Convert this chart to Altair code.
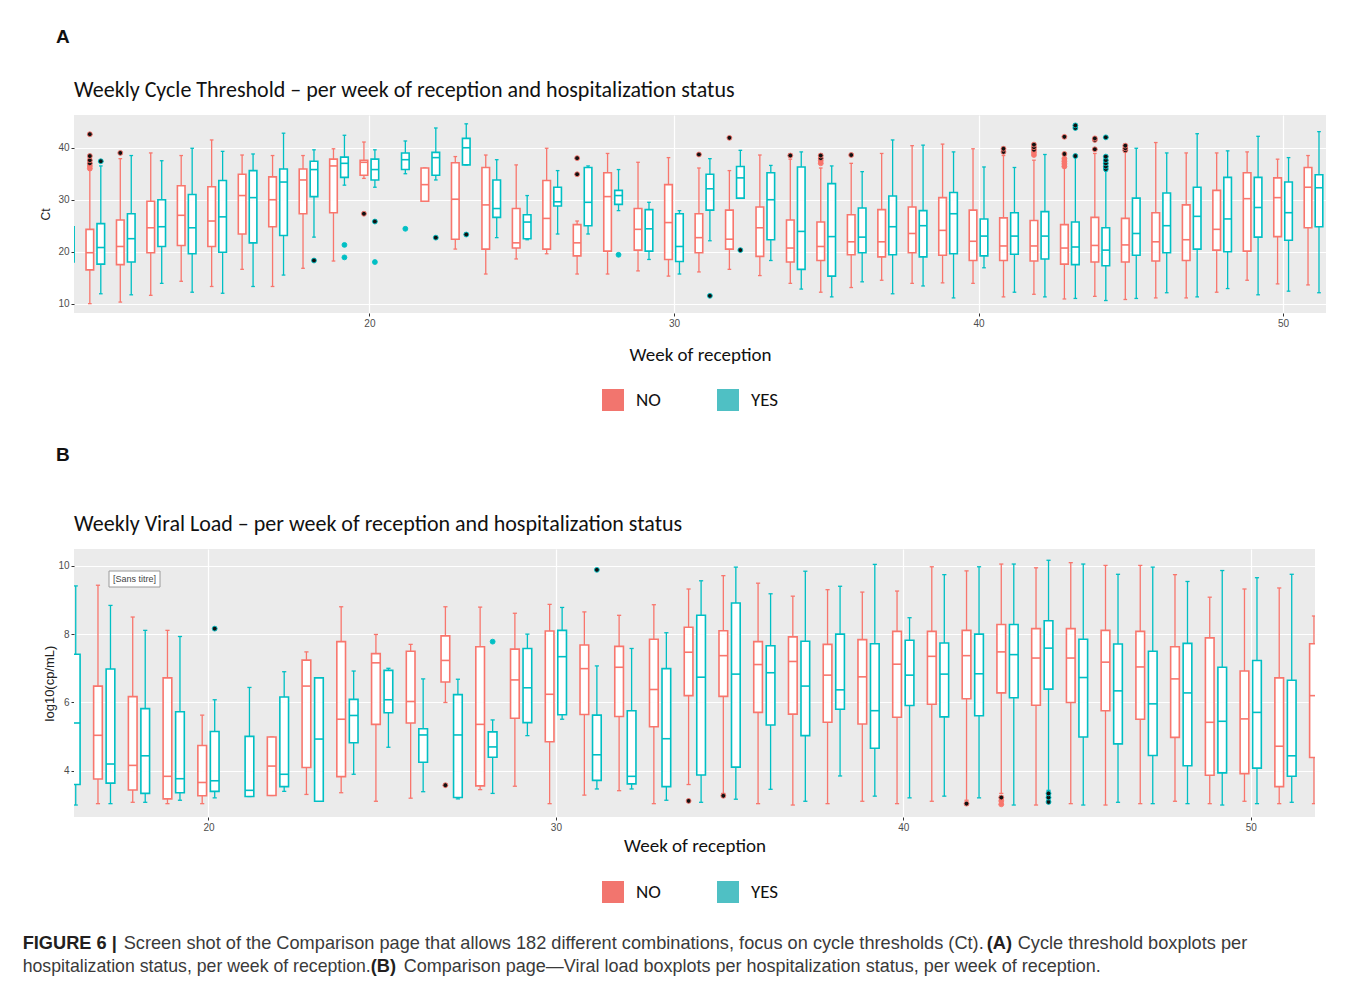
import altair as alt
import pandas as pd

# ---------------- Panel A : Cycle threshold (Ct) ----------------
A_week = [10, 11, 11, 12, 12, 13, 13, 14, 14, 15, 15, 16, 16, 17, 17, 18, 18, 19, 19, 20, 20, 21,
          22, 22, 23, 23, 24, 24, 25, 25, 26, 26, 27, 27, 28, 28, 29, 29, 30, 30, 31, 31, 32, 32,
          33, 33, 34, 34, 35, 35, 36, 36, 37, 37, 38, 38, 39, 39, 40, 40, 41, 41, 42, 42, 43, 43,
          44, 44, 45, 45, 46, 46, 47, 47, 48, 48, 49, 49, 50, 50, 51, 51]
A_group = ["YES"] + ["NO", "YES"] * 10 + ["YES"] + ["NO", "YES"] * 30
A_lo = [12.0, 10.0, 11.9, 10.3, 11.7, 11.6, 13.9, 14.3, 12.2, 13.3, 12.0, 16.6, 13.3, 13.3, 15.5,
        16.8, 22.8, 18.2, 32.8, 34.1, 32.4, 35.0,
        29.7, 33.8, 20.5, 36.7, 15.7, 22.7, 18.6, 22.3, 19.6, 23.4, 15.7, 23.4, 15.7, 27.9,
        16.3, 18.5, 15.3, 15.7, 16.1, 22.1, 16.6, 30.3, 15.4, 18.3, 13.9, 12.8, 12.2, 11.3,
        13.1, 14.2, 14.5, 11.9, 13.9, 13.4, 14.0, 11.1, 13.9, 16.9, 11.3, 12.2, 11.8, 11.3,
        10.9, 11.0, 11.4, 10.6, 10.8, 11.0, 11.1, 12.1, 11.1, 11.3, 12.2, 12.9, 14.5, 11.7,
        13.8, 12.4, 13.6, 12.1]
A_q1 = [18.0, 16.5, 17.6, 17.5, 18.0, 19.8, 21.0, 21.2, 19.6, 21.0, 19.9, 23.4, 21.7, 24.8, 23.1,
        27.3, 30.6, 27.5, 34.3, 34.7, 33.8, 35.8,
        29.7, 34.7, 22.4, 36.7, 20.5, 26.6, 20.7, 22.5, 20.5, 28.8, 19.2, 25.0, 20.1, 29.1,
        20.3, 20.1, 18.5, 18.1, 19.8, 28.0, 20.5, 30.3, 19.1, 22.3, 18.0, 16.6, 18.3, 15.3,
        19.4, 19.8, 19.0, 19.4, 19.8, 19.0, 19.3, 19.6, 18.3, 19.2, 18.3, 19.5, 18.2, 18.6,
        17.6, 17.5, 18.0, 17.3, 18.0, 19.3, 18.2, 19.8, 18.3, 20.5, 20.3, 20.0, 20.1, 22.8,
        22.9, 22.2, 24.6, 24.8]
A_med = [21.0, 19.8, 20.8, 21.0, 22.5, 24.6, 24.8, 27.0, 24.6, 25.9, 26.7, 30.8, 30.4, 30.0, 33.4,
         33.8, 35.8, 36.5, 37.0, 37.2, 35.8, 37.7,
         32.9, 38.1, 30.1, 40.0, 29.0, 28.3, 21.7, 25.7, 26.4, 29.6, 21.7, 29.5, 30.6, 30.8,
         24.3, 24.4, 25.6, 21.0, 22.7, 32.1, 22.4, 34.2, 24.6, 30.0, 20.7, 23.9, 21.0, 22.9,
         21.9, 22.8, 21.9, 24.8, 23.5, 25.0, 24.1, 27.3, 22.0, 23.0, 21.1, 23.0, 21.1, 23.0,
         20.7, 20.9, 21.2, 20.3, 21.3, 23.5, 21.9, 25.0, 22.3, 26.8, 24.3, 26.3, 30.2, 28.5,
         30.4, 27.5, 32.4, 32.3]
A_q3 = [24.8, 24.3, 25.4, 26.1, 27.3, 29.7, 30.0, 32.7, 31.0, 32.5, 33.7, 34.9, 35.6, 34.4, 35.9,
        35.9, 37.4, 37.8, 38.2, 37.6, 37.8, 39.0,
        36.1, 39.1, 37.1, 41.8, 36.2, 33.8, 28.3, 27.1, 33.7, 32.4, 25.2, 36.2, 35.2, 31.8,
        28.3, 28.1, 32.9, 27.3, 27.3, 34.9, 28.0, 36.4, 28.6, 35.2, 26.1, 36.3, 25.7, 33.1,
        27.1, 28.4, 28.1, 30.7, 28.6, 27.9, 30.4, 31.4, 28.0, 26.3, 26.5, 27.5, 26.0, 27.7,
        25.2, 25.7, 26.6, 24.6, 26.4, 30.3, 27.5, 31.3, 29.0, 32.4, 31.8, 34.3, 35.2, 34.3,
        34.2, 33.4, 36.2, 34.8]
A_hi = [36.0, 35.7, 36.5, 37.9, 38.5, 39.0, 37.5, 38.5, 39.9, 41.5, 39.3, 38.6, 38.8, 38.5, 42.8,
        38.5, 39.6, 39.8, 42.4, 41.1, 39.6, 41.3,
        36.1, 43.8, 38.3, 44.6, 38.6, 37.7, 36.7, 30.8, 39.9, 35.6, 25.9, 36.5, 38.9, 35.8,
        37.2, 29.5, 38.1, 27.9, 36.1, 37.9, 35.6, 39.5, 38.6, 36.6, 37.8, 39.2, 36.1, 36.5,
        37.0, 35.4, 38.9, 41.5, 40.4, 40.5, 40.7, 39.2, 39.8, 36.3, 38.5, 36.2, 37.6, 38.7,
        36.7, 38.3, 38.9, 35.5, 39.2, 39.9, 41.0, 39.0, 39.0, 42.7, 39.0, 39.4, 39.2, 42.2,
        37.8, 38.1, 38.5, 43.1]

# outliers of panel A (dark = drawn black with coloured rim)
A_out_week = [11, 11, 11, 11, 11, 11, 11, 12, 18, 19, 19, 20, 20, 20, 21, 22, 23, 27, 27, 28,
              31, 31, 32, 32, 34, 35, 35, 35, 35, 36, 41, 41, 42, 42, 42, 42, 42,
              43, 43, 43, 43, 43, 43, 43, 43, 43, 44, 44, 44, 44, 44, 44, 44, 44, 44, 45, 45, 45]
A_out_group = ["NO"] * 6 + ["YES", "NO", "YES", "YES", "YES", "NO", "YES", "YES", "YES", "YES",
               "YES", "NO", "NO", "YES", "NO", "YES", "NO", "YES", "NO"] + ["NO"] * 4 + \
              ["NO"] * 3 + ["NO"] * 5 + ["NO"] * 6 + ["YES"] * 3 + ["NO"] * 3 + ["YES"] * 6 + ["NO"] * 3
A_out_val = [36.0, 36.5, 37.0, 37.6, 38.4, 42.6, 37.4, 39.0, 18.3, 21.3, 18.9, 27.3, 25.8, 18.0,
             24.4, 22.7, 23.3, 38.0, 34.9, 19.4, 38.7, 11.5, 41.9, 20.3, 38.5,
             37.0, 37.5, 38.0, 38.5, 38.6, 39.2, 39.8, 38.6, 39.1, 39.6, 40.1, 40.6,
             36.4, 36.9, 37.4, 37.9, 38.8, 42.1, 38.4, 43.8, 44.3, 39.7, 41.5, 41.8,
             35.9, 36.4, 37.0, 37.6, 38.3, 42.0, 39.5, 39.9, 40.4]
A_out_dark = [0, 0, 1, 1, 1, 1, 1, 1, 1, 0, 0, 1, 1, 0, 0, 1, 1, 1, 1, 0, 1, 1, 1, 1, 1,
              0, 0, 1, 1, 1, 1, 1, 0, 0, 1, 1, 1, 0, 0, 0, 0, 1, 1, 1, 1, 1, 1, 1, 1,
              1, 1, 1, 1, 1, 1, 1, 1, 1]

# ---------------- Panel B : Viral load ----------------
B_week = [16, 17, 17, 18, 18, 19, 19, 20, 20, 21,
          22, 22, 23, 23, 24, 24, 25, 25, 26, 26, 27, 27, 28, 28, 29, 29, 30, 30, 31, 31, 32, 32,
          33, 33, 34, 34, 35, 35, 36, 36, 37, 37, 38, 38, 39, 39, 40, 40, 41, 41, 42, 42, 43, 43,
          44, 44, 45, 45, 46, 46, 47, 47, 48, 48, 49, 49, 50, 50, 51, 51, 52]
B_group = ["YES"] + ["NO", "YES"] * 4 + ["YES"] + ["NO", "YES"] * 30 + ["NO"]
B_lo = [3.00, 3.04, 3.04, 3.08, 3.08, 3.04, 3.14, 3.04, 3.21, 3.25,
        3.28, 3.40, 3.31, 3.11, 3.36, 3.90, 3.11, 4.69, 3.20, 3.39, 6.00, 3.18, 3.45, 3.34,
        3.55, 5.03, 3.04, 5.51, 3.29, 3.47, 3.42, 3.47, 3.04, 3.14, 3.60, 3.08, 3.34, 3.17,
        3.04, 3.46, 3.00, 3.11, 3.04, 3.85, 3.11, 3.26, 3.04, 3.21, 3.11, 3.26, 3.14, 3.21,
        3.34, 3.00, 3.00, 3.43, 3.04, 3.00, 3.00, 3.08, 3.04, 3.04, 3.11, 3.04, 3.04, 3.00,
        3.11, 3.04, 3.04, 3.08, 3.04]
B_q1 = [3.60, 3.76, 3.64, 3.44, 3.34, 3.18, 3.36, 3.27, 3.40, 3.25,
        3.28, 3.54, 4.10, 3.11, 3.83, 4.82, 5.36, 5.70, 5.40, 4.25, 6.60, 3.22, 3.56, 4.40,
        5.54, 5.41, 4.85, 5.64, 5.65, 3.72, 5.59, 3.62, 5.29, 3.54, 6.20, 3.88, 6.18, 4.11,
        5.71, 5.34, 5.66, 5.03, 5.42, 5.80, 5.37, 4.66, 5.57, 5.91, 5.95, 5.58, 6.11, 5.61,
        6.28, 6.14, 5.92, 6.39, 6.00, 4.99, 5.76, 4.79, 5.51, 4.45, 4.98, 4.15, 3.87, 3.94,
        3.92, 4.08, 3.54, 3.84, 4.39]
B_med = [5.40, 5.04, 4.20, 4.16, 4.44, 3.84, 3.77, 3.66, 3.71, 3.43,
         4.14, 3.90, 6.48, 4.93, 5.51, 5.62, 7.16, 6.08, 6.03, 5.05, 7.23, 5.05, 5.36, 4.70,
         6.66, 6.43, 6.24, 7.34, 6.99, 4.47, 7.03, 3.84, 6.38, 4.94, 7.47, 6.74, 7.37, 6.83,
         7.11, 6.87, 7.20, 6.48, 6.80, 6.37, 6.75, 5.76, 7.12, 6.80, 7.35, 6.83, 7.37, 6.84,
         7.48, 7.40, 7.30, 7.59, 7.30, 6.73, 7.18, 6.34, 7.04, 5.96, 6.69, 6.28, 5.42, 5.45,
         5.52, 5.71, 4.72, 4.44, 6.20]
B_q3 = [7.41, 6.48, 6.98, 6.17, 5.82, 6.72, 5.73, 4.74, 5.15, 5.01,
        4.99, 6.16, 7.24, 6.72, 7.78, 6.09, 7.43, 6.94, 7.50, 5.23, 7.95, 6.23, 7.63, 5.14,
        7.56, 7.58, 8.09, 8.11, 7.68, 5.63, 7.64, 5.76, 7.85, 6.99, 8.20, 8.55, 8.10, 8.91,
        7.78, 7.66, 7.92, 7.79, 7.70, 8.00, 7.84, 7.72, 8.08, 7.82, 8.08, 7.74, 8.11, 8.00,
        8.28, 8.28, 8.16, 8.39, 8.16, 7.85, 8.11, 7.71, 8.08, 7.50, 7.63, 7.73, 7.89, 7.03,
        6.92, 7.23, 6.72, 6.65, 7.72]
B_hi = [9.41, 9.43, 8.84, 8.50, 8.11, 8.11, 7.93, 5.63, 6.08, 6.44,
        4.99, 6.90, 7.48, 6.72, 8.80, 6.92, 7.99, 7.00, 7.70, 6.69, 8.80, 6.68, 8.79, 5.49,
        8.61, 8.00, 8.87, 8.78, 8.65, 7.07, 8.55, 7.58, 8.86, 8.04, 9.32, 9.56, 9.71, 9.96,
        9.49, 9.18, 9.11, 9.84, 9.30, 9.40, 9.23, 10.04, 9.26, 8.48, 9.97, 9.74, 9.85, 9.97,
        10.05, 10.05, 9.94, 10.16, 10.09, 10.05, 10.01, 9.75, 10.01, 9.96, 9.74, 9.54, 9.08, 9.86,
        9.32, 9.65, 9.35, 9.75, 8.53]

B_out_week = [20, 27, 28, 31, 34, 35, 42, 43, 43, 43, 44, 44, 44]
B_out_group = ["YES", "NO", "YES", "YES", "NO", "NO", "NO", "NO", "NO", "NO", "YES", "YES", "YES"]
B_out_val = [8.16, 3.58, 7.78, 9.88, 3.12, 3.27, 3.04, 3.02, 3.12, 3.22, 3.09, 3.22, 3.34]
B_out_dark = [1, 1, 0, 1, 1, 1, 1, 0, 0, 1, 1, 1, 1]

GROUPS = ["NO", "YES"]
COLORS = ["#F8766D", "#00BFC4"]
LEGEND_COLORS = ["#F2756E", "#4FC0C4"]

TITLE_FONT = "Carlito, Lato, sans-serif"
TEXT_FONT = "Liberation Sans, Arial, sans-serif"

title_A = "Weekly Cycle Threshold \u2013 per week of reception and hospitalization status"
title_B = "Weekly Viral Load \u2013 per week of reception and hospitalization status"
caption_l1 = ["FIGURE 6 |",
              "Screen shot of the Comparison page that allows 182 different combinations, focus on cycle thresholds (Ct).",
              "(A)", "Cycle threshold boxplots per"]
caption_l2 = ["hospitalization status, per week of reception.", "(B)",
              "Comparison page\u2014Viral load boxplots per hospitalization status, per week of reception."]

CMAP = dict(zip(GROUPS, COLORS))


def boxes_df(week, group, lo, q1, med, q3, hi):
    df = pd.DataFrame({"week": week, "group": group, "lo": lo, "q1": q1,
                       "med": med, "q3": q3, "hi": hi})
    df["sc"] = df["group"].map(CMAP)
    return df


def outl_df(week, group, val, dark):
    df = pd.DataFrame({"week": week, "group": group, "val": val, "dark": dark})
    df["sc"] = df["group"].map(CMAP)
    df["fc"] = [("#111111" if d else CMAP[g]) for g, d in zip(df["group"], df["dark"])]
    return df


def text_layer(txt, x, y, size, font, weight="normal", color="#111111", align="left",
               baseline="alphabetic"):
    return alt.Chart(pd.DataFrame({"t": [txt]})).mark_text(
        font=font, fontSize=size, fontWeight=weight, color=color,
        align=align, baseline=baseline).encode(x=alt.value(x), y=alt.value(y), text="t:N")


def panel(bdf, odf, xdom, ydom, yvals, W, H, ytitle, ytsize, ytpad, xtpad,
          title, letter, letter_y, legend_y, extra=None):
    xs = alt.Scale(domain=xdom, nice=False, zero=False)
    ys = alt.Scale(domain=ydom, nice=False, zero=False)
    xax = alt.Axis(values=[20, 30, 40, 50], title="Week of reception", titleFont=TITLE_FONT,
                   titleFontSize=19, titleFontWeight="normal", titleColor="#111111",
                   titlePadding=xtpad, format="d")
    yax = alt.Axis(values=yvals, title=ytitle, titleFont=TEXT_FONT, titleFontSize=ytsize,
                   titleFontWeight="normal", titleColor="#222222", titlePadding=ytpad, format="d")

    base = (alt.Chart(bdf)
            .transform_calculate(xc="datum.week + (datum.group == 'NO' ? -0.18 : 0.18)")
            .transform_calculate(xl="datum.xc - 0.125", xr="datum.xc + 0.125",
                                 cl="datum.xc - 0.06", cr="datum.xc + 0.06"))
    col = alt.Color("sc:N", scale=None)

    whisk = base.mark_rule(strokeWidth=1.3, clip=True).encode(
        x=alt.X("xc:Q", scale=xs, axis=xax), y=alt.Y("lo:Q", scale=ys, axis=yax),
        y2="hi:Q", color=col)
    cap_lo = base.mark_rule(strokeWidth=1.3, clip=True).encode(
        x=alt.X("cl:Q", scale=xs, axis=xax), x2="cr:Q",
        y=alt.Y("lo:Q", scale=ys, axis=yax), color=col)
    cap_hi = base.mark_rule(strokeWidth=1.3, clip=True).encode(
        x=alt.X("cl:Q", scale=xs, axis=xax), x2="cr:Q",
        y=alt.Y("hi:Q", scale=ys, axis=yax), color=col)
    box = base.mark_bar(fill="white", strokeWidth=1.6, clip=True).encode(
        x=alt.X("xl:Q", scale=xs, axis=xax), x2="xr:Q",
        y=alt.Y("q1:Q", scale=ys, axis=yax), y2="q3:Q",
        stroke=alt.Stroke("sc:N", scale=None))
    med = base.mark_rule(strokeWidth=1.6, clip=True).encode(
        x=alt.X("xl:Q", scale=xs, axis=xax), x2="xr:Q",
        y=alt.Y("med:Q", scale=ys, axis=yax), color=col)
    leg = base.mark_square(opacity=0, size=4, clip=True).encode(
        x=alt.X("xc:Q", scale=xs, axis=xax), y=alt.Y("med:Q", scale=ys, axis=yax),
        fill=alt.Fill("group:N", scale=alt.Scale(domain=GROUPS, range=LEGEND_COLORS),
                      legend=alt.Legend(orient="none", legendX=528, legendY=legend_y,
                                        direction="horizontal", title=None,
                                        symbolType="square", symbolSize=484,
                                        symbolStrokeWidth=0, symbolOpacity=1,
                                        labelFont=TITLE_FONT,
                                        labelFontSize=19, labelColor="#111111",
                                        labelOffset=12, columnPadding=56, padding=0)))
    outs = (alt.Chart(odf)
            .transform_calculate(xc="datum.week + (datum.group == 'NO' ? -0.18 : 0.18)")
            .mark_circle(size=24, strokeWidth=0.9, opacity=1, clip=True)
            .encode(x=alt.X("xc:Q", scale=xs, axis=xax), y=alt.Y("val:Q", scale=ys, axis=yax),
                    fill=alt.Fill("fc:N", scale=None), stroke=alt.Stroke("sc:N", scale=None)))
    lab = text_layer(letter, -18, letter_y, 19, TEXT_FONT, weight="bold")
    ttl = text_layer(title, 0, -18.3, 22, TITLE_FONT)
    layers = [whisk, cap_lo, cap_hi, box, med, outs, leg, lab, ttl]
    if extra:
        layers += extra
    return alt.layer(*layers).properties(width=W, height=H)


dfA = boxes_df(A_week, A_group, A_lo, A_q1, A_med, A_q3, A_hi)
oA = outl_df(A_out_week, A_out_group, A_out_val, A_out_dark)
dfB = boxes_df(B_week, B_group, B_lo, B_q1, B_med, B_q3, B_hi)
oB = outl_df(B_out_week, B_out_group, B_out_val, B_out_dark)

# annotation + caption drawn inside panel B
one = pd.DataFrame({"t": ["[Sans titre]"]})
sans_box = alt.Chart(one).mark_rect(fill="white", stroke="#9a9a9a", strokeWidth=1).encode(
    x=alt.value(35), x2=alt.value(86), y=alt.value(22), y2=alt.value(38))
sans_txt = text_layer("[Sans titre]", 60.5, 30, 9, TEXT_FONT, color="#444444",
                      align="center", baseline="middle")

cap_specs = [
    (caption_l1[0], -51.3, 400, "bold", "#231F20", 18.2),
    (caption_l1[1], 49.7, 400, "normal", "#3A3A3A", 18.2),
    (caption_l1[2], 912.7, 400, "bold", "#231F20", 18.2),
    (caption_l1[3], 943.7, 400, "normal", "#3A3A3A", 18.2),
    (caption_l2[0], -51.3, 423, "normal", "#3A3A3A", 17.7),
    (caption_l2[1], 296.7, 423, "bold", "#231F20", 18.2),
    (caption_l2[2], 329.7, 423, "normal", "#3A3A3A", 18.0),
]
cap_layers = [text_layer(t, cx, cy, cs, TEXT_FONT, weight=fw, color=cc)
              for t, cx, cy, fw, cc, cs in cap_specs]

chartA = panel(dfA, oA, [10.3, 51.41], [8.2, 46.3], [10, 20, 30, 40], 1252, 198,
               "Ct", 12, 5, 17, title_A, "A", -71.7, 274)
chartB = panel(dfB, oB, [16.13, 51.85], [2.65, 10.49], [4, 6, 8, 10], 1241, 268,
               "log10(cp/mL)", 13, 1, 4, title_B, "B", -88, 332,
               extra=[sans_box, sans_txt] + cap_layers)

chart = alt.vconcat(chartA, chartB, spacing=35).resolve_scale(
    fill="independent").resolve_legend(fill="independent").properties(
    padding={"left": 14, "top": 20, "right": 0, "bottom": 0}
).configure_view(fill="#EBEBEB", stroke=None).configure_axis(
    grid=True, gridColor="#FFFFFF", gridWidth=1.2, domain=False, tickColor="#333333",
    tickSize=3, labelColor="#4D4D4D", labelFontSize=10, labelFont=TEXT_FONT, labelPadding=2
)

chart.save("out.html", embed_options={"renderer": "svg", "actions": False})
